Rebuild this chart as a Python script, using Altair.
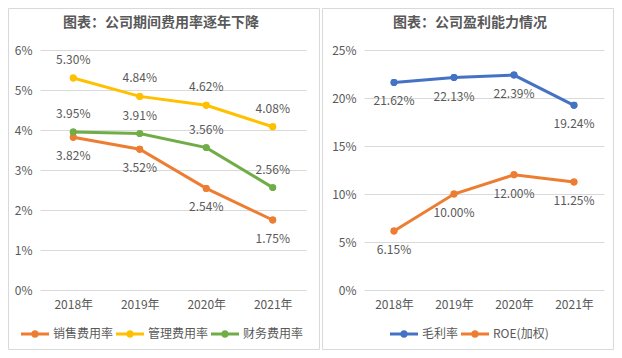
import altair as alt
import pandas as pd

# ---------------- data ----------------
years = ["2018年", "2019年", "2020年", "2021年"]

left_title = "图表：公司期间费用率逐年下降"
left_series = ["销售费用率", "管理费用率", "财务费用率"]
sales_rate = [3.82, 3.52, 2.54, 1.75]
admin_rate = [5.30, 4.84, 4.62, 4.08]
finance_rate = [3.95, 3.91, 3.56, 2.56]
left_label_side = ["below", "above", "above"]

right_title = "图表：公司盈利能力情况"
right_series = ["毛利率", "ROE(加权)"]
gross_margin = [21.62, 22.13, 22.39, 19.24]
roe_weighted = [6.15, 10.00, 12.00, 11.25]
right_label_side = ["below", "below"]

left_ticks = [0, 0.01, 0.02, 0.03, 0.04, 0.05, 0.06]
right_ticks = [0, 0.05, 0.10, 0.15, 0.20, 0.25]

# ---------------- style ----------------
FONT = "Noto Sans CJK SC"
GRAY = "#595959"
GRID = "#d9d9d9"
ORANGE, YELLOW, GREEN, BLUE = "#ED7D31", "#FFC000", "#70AD47", "#4472C4"
SYMBOL = ("M-1,-0.11H1V0.11H-1Z "
          "M-0.27,0A0.27,0.27 0 1,1 0.27,0A0.27,0.27 0 1,1 -0.27,0Z")


def long_frame(series, values_list, sides):
    rows = []
    for s, vals, side in zip(series, values_list, sides):
        for y, v in zip(years, vals):
            rows.append({"year": y, "series": s, "value": v / 100.0,
                         "label": f"{v:.2f}%", "side": side})
    return pd.DataFrame(rows)


def panel(df, series, colors, ticks, width, title, title_x,
          legend_x, box_x2):
    x = alt.X("year:N", sort=years,
              scale=alt.Scale(type="point", padding=0.5),
              axis=alt.Axis(title=None, labelAngle=0, domain=False,
                            ticks=False, labelPadding=9, labelFontSize=12,
                            labelColor=GRAY, labelFont=FONT, grid=False))
    y = alt.Y("value:Q",
              scale=alt.Scale(domain=[ticks[0], ticks[-1]], nice=False),
              axis=alt.Axis(title=None, format=".0%", values=ticks,
                            domain=False, ticks=False, labelPadding=8,
                            labelFontSize=12, labelColor=GRAY,
                            labelFont=FONT, grid=True, gridColor=GRID,
                            gridWidth=1))
    color_scale = alt.Scale(domain=series, range=colors)
    legend = alt.Legend(
        title=None, orient="none", direction="horizontal",
        legendX=legend_x, legendY=270,
        symbolType=SYMBOL, symbolSize=784,
        symbolStrokeWidth=0, symbolFillColor="black",
        labelFontSize=12, labelColor=GRAY, labelFont=FONT,
        labelOffset=4, columnPadding=2)
    base = alt.Chart(df)
    points = base.mark_circle(size=48, opacity=1).encode(
        x=x, y=y,
        color=alt.Color("series:N", scale=color_scale, legend=legend))
    lines = base.mark_line(strokeWidth=3).encode(
        x=x, y=y,
        color=alt.Color("series:N", scale=color_scale, legend=legend),
        detail="series:N")
    above = base.transform_filter(alt.datum.side == "above").mark_text(
        dy=-18, fontSize=12, font=FONT, color=GRAY).encode(
        x=x, y=y, text="label:N")
    below = base.transform_filter(alt.datum.side == "below").mark_text(
        dy=19, fontSize=12, font=FONT, color=GRAY).encode(
        x=x, y=y, text="label:N")
    ttl = alt.Chart(pd.DataFrame({"t": [title]})).mark_text(
        fontSize=14, fontWeight="bold", font=FONT, color=GRAY,
        baseline="middle", align="center").encode(
        text="t:N", x=alt.value(title_x), y=alt.value(-27))
    box = alt.Chart(pd.DataFrame({"b": [0]})).mark_rect(
        filled=False, stroke=GRID, strokeWidth=1).encode(
        x=alt.value(box_x2[0]), x2=alt.value(box_x2[1]),
        y=alt.value(-41.5), y2=alt.value(299.5))
    return alt.layer(points, lines, points, above, below, ttl, box).properties(
        width=width, height=240)


left_df = long_frame(left_series, [sales_rate, admin_rate, finance_rate],
                     left_label_side)
right_df = long_frame(right_series, [gross_margin, roe_weighted],
                      right_label_side)

left = panel(left_df, left_series, [ORANGE, YELLOW, GREEN], left_ticks,
             266, left_title, 121, -19, (-31.5, 279.5))
right = panel(right_df, right_series, [BLUE, ORANGE], right_ticks,
              240, right_title, 106, 26, (-41.5, 249.5))

chart = alt.hconcat(left, right, spacing=58, bounds="flush").resolve_scale(
    color="independent", x="independent", y="independent"
).resolve_legend(color="independent").properties(
    padding=0, background="white"
).configure_view(stroke=None)

chart.save("out.html", embed_options={"renderer": "svg", "actions": False})
